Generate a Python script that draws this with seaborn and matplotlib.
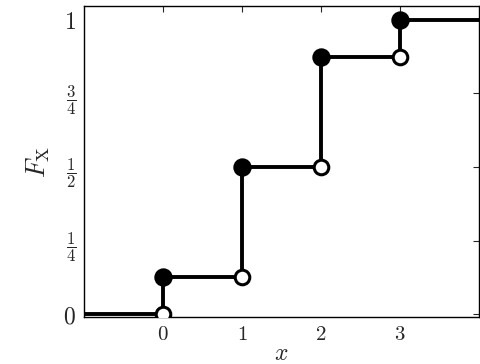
import pandas as pd
import matplotlib.pyplot as plt
import seaborn as sns
import numpy as np

# CDF of X (jump points and values)
jumps = [0, 1, 2, 3]
cdf_vals = [1/8, 1/2, 7/8, 1.0]
x_min, x_max = -1, 4
ytick_vals = [0, 0.25, 0.5, 0.75, 1]
ytick_labels = ["$0$", r"$\dfrac{1}{4}$", r"$\dfrac{1}{2}$", r"$\dfrac{3}{4}$", "$1$"]
xtick_vals = [0, 1, 2, 3]

# build step path
px = [x_min]
py = [0.0]
prev = 0.0
for xj, fj in zip(jumps, cdf_vals):
    px += [xj, xj]
    py += [prev, fj]
    prev = fj
px.append(x_max)
py.append(prev)
path = pd.DataFrame({"x": px, "y": py})

closed = pd.DataFrame({"x": jumps, "y": cdf_vals})
opened = pd.DataFrame({"x": jumps, "y": [0.0] + cdf_vals[:-1]})

sns.set_style("white")
plt.rcParams["mathtext.fontset"] = "cm"
plt.rcParams["font.family"] = ["DejaVu Serif"]

fig = plt.figure(figsize=(4.81, 3.64), dpi=100)
ax = fig.add_axes([0.175, 0.129, 0.821, 0.855])

sns.lineplot(data=path, x="x", y="y", sort=False, estimator=None, color="black",
             linewidth=2.8, ax=ax, zorder=2)
sns.scatterplot(data=opened, x="x", y="y", s=110, color="white", edgecolor="black",
                linewidth=2.2, ax=ax, zorder=3)
sns.scatterplot(data=closed, x="x", y="y", s=150, color="black", edgecolor="black",
                ax=ax, zorder=4)

ax.set_xlim(x_min, x_max)
ax.set_ylim(-0.01, 1.048)
ax.set_xticks(xtick_vals)
ax.set_xticklabels([f"${v}$" for v in xtick_vals], fontsize=15)
ax.set_yticks(ytick_vals)
ax.set_yticklabels(ytick_labels, fontsize=12)
for lab in ax.get_yticklabels():
    if lab.get_text() in ("$0$", "$1$"):
        lab.set_fontsize(17)
ax.tick_params(direction="in", length=4, width=0.8, top=True, right=True,
               labeltop=False, labelright=False, pad=6)
for sp in ax.spines.values():
    sp.set_color("black")
    sp.set_linewidth(1.0)

ax.set_xlabel("$x$", fontsize=17, labelpad=-2)
ax.set_ylabel(r"$F_{\mathrm{X}}$", fontsize=19, labelpad=8)

fig.savefig("out.png", dpi=100)
